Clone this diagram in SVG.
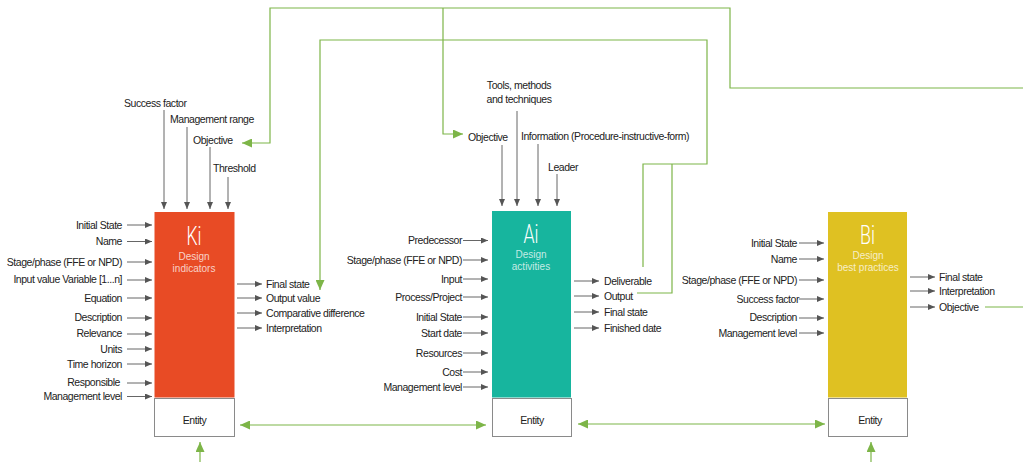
<svg xmlns="http://www.w3.org/2000/svg" width="1023" height="462" viewBox="0 0 1023 462">
  <style>
    .lbl { font-family: "Liberation Sans", Arial, sans-serif; font-size: 10.5px; letter-spacing: -0.45px; fill: #222; }
    .end { text-anchor: end; }
    .mid { text-anchor: middle; }
    .big { font-family: "Roboto", "Liberation Sans", Arial, sans-serif; font-weight: 300; font-size: 25px; fill: #fff; text-anchor: middle; }
    .sub { font-family: "Liberation Sans", Arial, sans-serif; font-size: 10px; fill: #fff; fill-opacity: 0.75; text-anchor: middle; }
    .ent { fill: #fff; stroke: #8a8a8a; stroke-width: 1; }
    .arr { stroke: #666; stroke-width: 1; fill: none; marker-end: url(#ga); }
    .grn { stroke: #7db548; stroke-width: 1.2; fill: none; }
  </style>
  <defs>
    <marker id="ga" markerUnits="userSpaceOnUse" markerWidth="7" markerHeight="6" refX="7" refY="3" orient="auto">
      <path d="M0,0 L7,3 L0,6 z" fill="#555"/>
    </marker>
    <marker id="gr" markerUnits="userSpaceOnUse" markerWidth="10" markerHeight="9" refX="10" refY="4.5" orient="auto-start-reverse">
      <path d="M0,0 L10,4.5 L0,9 z" fill="#7db548"/>
    </marker>
  </defs>

  <rect width="1023" height="462" fill="#fff"/>

  <!-- connectors: green feedback lines and entity links -->
  <g id="connectors">
    <!-- Bi objective feeds back to Ki and Ai objectives -->
    <path class="grn" d="M985,307 H1023"/>
    <path class="grn" d="M1023,88 H730 V8 H270 V143 H242" marker-end="url(#gr)"/>
    <path class="grn" d="M443,8 V134 H463" marker-end="url(#gr)"/>
    <!-- Ai deliverable/output feed Ki final state -->
    <path class="grn" d="M643,267 V164 H707 V40 H320 V290" marker-end="url(#gr)"/>
    <path class="grn" d="M637,293 H672 V164"/>
    <!-- entity links -->
    <path class="grn" d="M240,425 H486" marker-start="url(#gr)" marker-end="url(#gr)"/>
    <path class="grn" d="M578,424 H825" marker-start="url(#gr)" marker-end="url(#gr)"/>
    <path class="grn" d="M200,462 V442" marker-end="url(#gr)"/>
    <path class="grn" d="M871,462 V442" marker-end="url(#gr)"/>

    <!-- Ki top inputs -->
    <path class="arr" d="M164,110 V209"/>
    <path class="arr" d="M187,127 V209"/>
    <path class="arr" d="M210,147 V209"/>
    <path class="arr" d="M228,177 V209"/>
    <!-- Ki left inputs -->
    <path class="arr" d="M127,225 H152"/>
    <path class="arr" d="M127,241.5 H152"/>
    <path class="arr" d="M127,262 H152"/>
    <path class="arr" d="M127,280 H152"/>
    <path class="arr" d="M127,298 H152"/>
    <path class="arr" d="M127,318 H152"/>
    <path class="arr" d="M127,334 H152"/>
    <path class="arr" d="M127,349 H152"/>
    <path class="arr" d="M127,364 H152"/>
    <path class="arr" d="M127,383 H152"/>
    <path class="arr" d="M127,396.5 H152"/>
    <!-- Ki outputs -->
    <path class="arr" d="M237,284 H262"/>
    <path class="arr" d="M237,298 H262"/>
    <path class="arr" d="M237,313 H262"/>
    <path class="arr" d="M237,328 H262"/>

    <!-- Ai top inputs -->
    <path class="arr" d="M502,145 V206"/>
    <path class="arr" d="M517,111 V206"/>
    <path class="arr" d="M538,144 V206"/>
    <path class="arr" d="M557,174 V206"/>
    <!-- Ai left inputs -->
    <path class="arr" d="M463,240.5 H488"/>
    <path class="arr" d="M463,260 H488"/>
    <path class="arr" d="M463,279 H488"/>
    <path class="arr" d="M463,297 H488"/>
    <path class="arr" d="M463,317 H488"/>
    <path class="arr" d="M463,333 H488"/>
    <path class="arr" d="M463,353 H488"/>
    <path class="arr" d="M463,372 H488"/>
    <path class="arr" d="M463,387 H488"/>
    <!-- Ai outputs -->
    <path class="arr" d="M574,281 H599"/>
    <path class="arr" d="M574,296 H599"/>
    <path class="arr" d="M574,312 H599"/>
    <path class="arr" d="M574,328 H599"/>

    <!-- Bi left inputs -->
    <path class="arr" d="M799,243 H824"/>
    <path class="arr" d="M799,259 H824"/>
    <path class="arr" d="M799,280 H824"/>
    <path class="arr" d="M799,299 H824"/>
    <path class="arr" d="M799,318 H824"/>
    <path class="arr" d="M799,333 H824"/>
    <!-- Bi outputs -->
    <path class="arr" d="M910,277 H935"/>
    <path class="arr" d="M910,291 H935"/>
    <path class="arr" d="M910,307 H935"/>
  </g>

  <!-- Ki: design indicators -->
  <g id="ki">
    <rect x="154.5" y="212" width="80" height="185.5" fill="#e84b25"/>
    <text class="big" x="194" y="245" textLength="15" lengthAdjust="spacingAndGlyphs">Ki</text>
    <text class="sub" x="194" y="260">Design</text>
    <text class="sub" x="194" y="272">indicators</text>
    <rect class="ent" x="154.5" y="398.5" width="80" height="38"/>
    <text class="lbl mid" x="194.5" y="424">Entity</text>
    <text class="lbl" x="124" y="106.5">Success factor</text>
    <text class="lbl" x="170" y="122.5">Management range</text>
    <text class="lbl" x="193" y="143.5">Objective</text>
    <text class="lbl" x="213" y="171.5">Threshold</text>
    <text class="lbl end" x="122" y="228.5">Initial State</text>
    <text class="lbl end" x="122" y="245">Name</text>
    <text class="lbl end" x="122" y="265.5">Stage/phase (FFE or NPD)</text>
    <text class="lbl end" x="122" y="283">Input value Variable [1...n]</text>
    <text class="lbl end" x="122" y="301.5">Equation</text>
    <text class="lbl end" x="122" y="320.5">Description</text>
    <text class="lbl end" x="122" y="337">Relevance</text>
    <text class="lbl end" x="122" y="352.5">Units</text>
    <text class="lbl end" x="122" y="367.5">Time horizon</text>
    <text class="lbl end" x="120" y="386">Responsible</text>
    <text class="lbl end" x="122" y="400">Management level</text>
    <text class="lbl" x="266" y="287.5">Final state</text>
    <text class="lbl" x="266" y="301.5">Output value</text>
    <text class="lbl" x="266" y="316.5">Comparative difference</text>
    <text class="lbl" x="266" y="331.5">Interpretation</text>
  </g>

  <!-- Ai: design activities -->
  <g id="ai">
    <rect x="492" y="211" width="79" height="186.5" fill="#17b59e"/>
    <text class="big" x="531" y="243" textLength="15" lengthAdjust="spacingAndGlyphs">Ai</text>
    <text class="sub" x="531" y="258">Design</text>
    <text class="sub" x="531" y="270">activities</text>
    <rect class="ent" x="492.5" y="398.5" width="79" height="38"/>
    <text class="lbl mid" x="532" y="424">Entity</text>
    <text class="lbl mid" x="519" y="88.5">Tools, methods</text>
    <text class="lbl mid" x="519" y="102.5">and techniques</text>
    <text class="lbl" x="468" y="140.5">Objective</text>
    <text class="lbl" x="521" y="139.5">Information (Procedure-instructive-form)</text>
    <text class="lbl" x="548" y="170.5">Leader</text>
    <text class="lbl end" x="462" y="244">Predecessor</text>
    <text class="lbl end" x="462" y="263.5">Stage/phase (FFE or NPD)</text>
    <text class="lbl end" x="462" y="282.5">Input</text>
    <text class="lbl end" x="462" y="300.5">Process/Project</text>
    <text class="lbl end" x="462" y="320.5">Initial State</text>
    <text class="lbl end" x="462" y="336.5">Start date</text>
    <text class="lbl end" x="462" y="356.5">Resources</text>
    <text class="lbl end" x="462" y="375.5">Cost</text>
    <text class="lbl end" x="462" y="391">Management level</text>
    <text class="lbl" x="604" y="284.5">Deliverable</text>
    <text class="lbl" x="604" y="299.5">Output</text>
    <text class="lbl" x="604" y="315.5">Final state</text>
    <text class="lbl" x="604" y="331.5">Finished date</text>
  </g>

  <!-- Bi: design best practices -->
  <g id="bi">
    <rect x="828" y="212" width="79" height="185.5" fill="#dfc122"/>
    <text class="big" x="867.5" y="244" textLength="15" lengthAdjust="spacingAndGlyphs">Bi</text>
    <text class="sub" x="868" y="259">Design</text>
    <text class="sub" x="868" y="271">best practices</text>
    <rect class="ent" x="828.5" y="398.5" width="79" height="38"/>
    <text class="lbl mid" x="870" y="424">Entity</text>
    <text class="lbl end" x="797" y="246.5">Initial State</text>
    <text class="lbl end" x="797" y="262.5">Name</text>
    <text class="lbl end" x="797" y="283.5">Stage/phase (FFE or NPD)</text>
    <text class="lbl end" x="799" y="302.5">Success factor</text>
    <text class="lbl end" x="797" y="320.5">Description</text>
    <text class="lbl end" x="797" y="336.5">Management level</text>
    <text class="lbl" x="939" y="280.5">Final state</text>
    <text class="lbl" x="939" y="294.5">Interpretation</text>
    <text class="lbl" x="939" y="310.5">Objective</text>
  </g>
</svg>
